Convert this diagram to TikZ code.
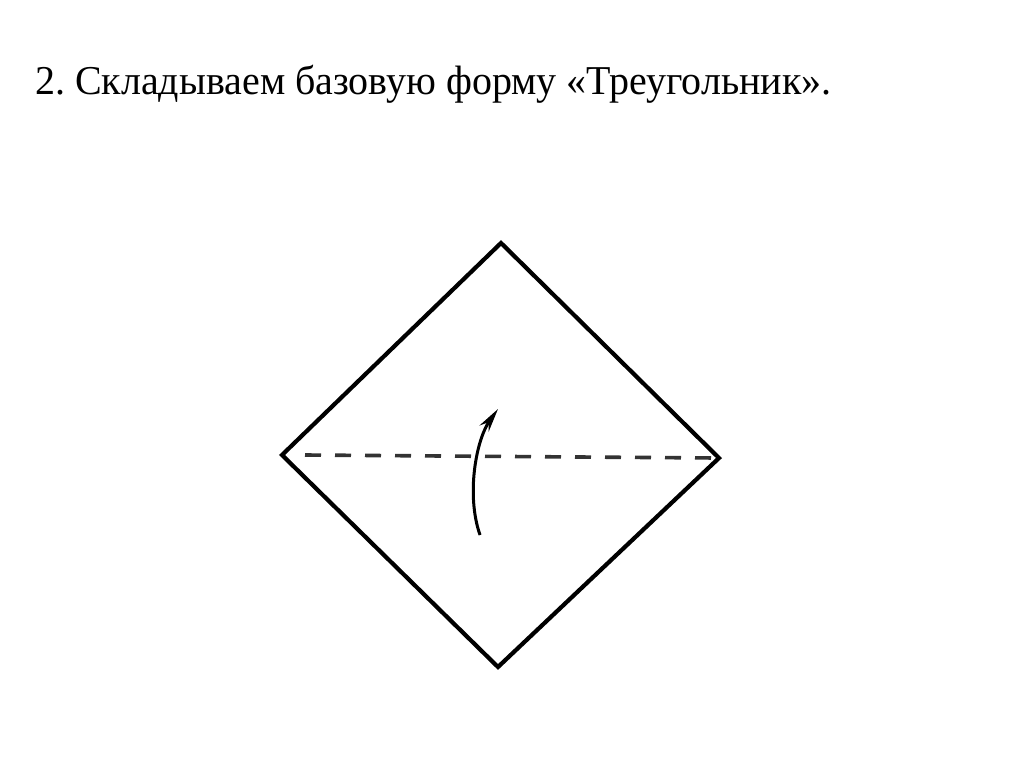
\documentclass[tikz,border=0pt]{standalone}
\usepackage{fontspec}
\setmainfont{Liberation Serif}
\usetikzlibrary{arrows.meta}
\begin{document}
\frenchspacing
\begin{tikzpicture}[x=1pt,y=-1pt,
  edge/.style={line width=4.2pt, line join=miter, black},
  fold/.style={line width=3.6pt, dash pattern=on 16pt off 14pt, black!80},
  turn/.style={line width=3pt, -{Stealth[length=24pt,width=11pt]}, black}]
\useasboundingbox (0,0) rectangle (1024,767);
\fill[white] (0,0) rectangle (1024,767);
\node[anchor=base west, inner sep=0pt, xscale=0.975, transform shape, font=\fontsize{41}{48}\selectfont] (title) at (35,95) {2. Складываем базовую форму «Треугольник».};
\coordinate (T) at (501,243);
\coordinate (L) at (282,455);
\coordinate (R) at (719,458);
\coordinate (B) at (498,667);
\coordinate (FL) at (305,455);
\coordinate (FR) at (716,458);
\coordinate (AS) at (480,535);
\coordinate (AT) at (498,409);
\draw[edge] (T) -- (R) -- (B) -- (L) -- cycle;
\draw[fold] (FL) -- (FR);
\draw[turn] (AS) .. controls (466,495) and (476,440) .. (AT);
\end{tikzpicture}
\end{document}
